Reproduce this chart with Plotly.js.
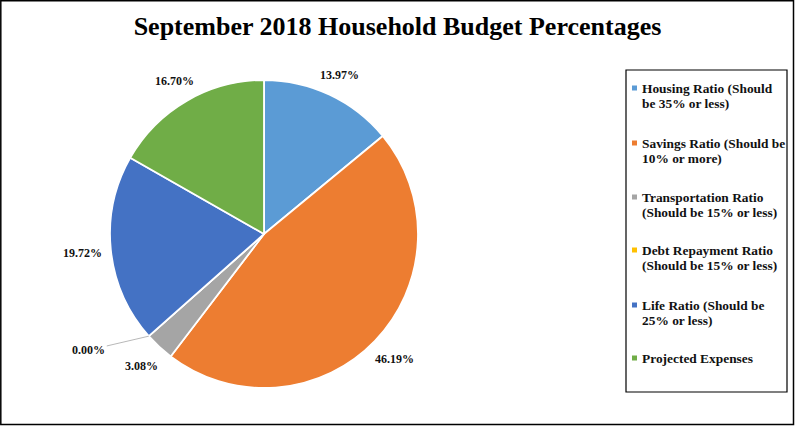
<!DOCTYPE html>
<html>
<head>
<meta charset="utf-8">
<script src="https://cdn.plot.ly/plotly-3.0.1.min.js"></script>
<style>html,body{margin:0;padding:0;background:#fff;}#chart{width:795px;height:426px;}</style>
</head>
<body>
<div id="chart"></div>
<script>
const categories = [
  "Housing Ratio (Should be 35% or less)",
  "Savings Ratio (Should be 10% or more)",
  "Transportation Ratio (Should be 15% or less)",
  "Debt Repayment Ratio (Should be 15% or less)",
  "Life Ratio (Should be 25% or less)",
  "Projected Expenses"
];
const legendLines = [
  ["Housing Ratio (Should", "be 35% or less)"],
  ["Savings Ratio (Should be", "10% or more)"],
  ["Transportation Ratio", "(Should be 15% or less)"],
  ["Debt Repayment Ratio", "(Should be 15% or less)"],
  ["Life Ratio (Should be", "25% or less)"],
  ["Projected Expenses"]
];
const values = [13.97, 46.19, 3.08, 0.00, 19.72, 16.70];
const colors = ["#5B9BD5", "#ED7D31", "#A5A5A5", "#FFC000", "#4472C4", "#70AD47"];

const W = 795, H = 426;
const px = x => x / W;
const py = y => 1 - y / H;

const FONT = "Liberation Serif, Times New Roman, serif";

// pie geometry
const cx = 264, cy = 234, R = 154;
const domain = {x: [px(cx - R), px(cx + R)], y: [py(cy + R), py(cy - R)]};

const labels = values.map(v => v.toFixed(2) + "%");
const total = values.reduce((a, b) => a + b, 0);

const trace = {
  type: "pie",
  labels: categories,
  values: values,
  text: labels,
  textinfo: "none",
  hoverinfo: "label+text",
  sort: false,
  direction: "clockwise",
  rotation: 0,
  domain: domain,
  automargin: false,
  marker: {colors: colors, line: {color: "#ffffff", width: 1.8}},
  showlegend: false
};

const shapes = [
  {type: "rect", xref: "paper", yref: "paper", x0: px(0.8), x1: px(793.5), y0: py(424.5), y1: py(0.8),
   line: {color: "#000", width: 1.5}},
  {type: "rect", xref: "paper", yref: "paper", x0: px(626), x1: px(787), y0: py(392), y1: py(70),
   line: {color: "#000", width: 1.2}}
];
const annotations = [];

// legend (manual, marker aligned with first text line)
const legendY = [88, 143, 197, 250, 305, 358];
categories.forEach((c, i) => {
  const y = legendY[i];
  shapes.push({type: "rect", xref: "paper", yref: "paper",
    x0: px(632), x1: px(637), y0: py(y + 2.5), y1: py(y - 2.5),
    fillcolor: colors[i], line: {width: 0}});
  legendLines[i].forEach((line, j) => {
    annotations.push({xref: "paper", yref: "paper", x: px(640), y: py(y + j * 15),
      xanchor: "left", yanchor: "middle", align: "left", showarrow: false,
      text: "<b>" + line + "</b>",
      font: {family: FONT, size: 13.4, color: "#111"}});
  });
});

// data labels placed outside each slice at its mid-angle
const LW = 40, LH = 12, GAP = 8;
let cum = 0;
values.forEach((v, i) => {
  const start = cum;
  cum += v;
  if (v === 0) {
    const ang = (start / total) * 2 * Math.PI;
    const ex = cx + R * Math.sin(ang);
    const ey = cy - R * Math.cos(ang);
    annotations.push({xref: "paper", yref: "paper", x: px(ex), y: py(ey),
      ax: -60, ay: 14, showarrow: true, arrowhead: 0, arrowwidth: 0.8, arrowcolor: "#A6A6A6",
      text: "<b>" + labels[i] + "</b>", font: {family: FONT, size: 12, color: "#111"}, standoff: 0});
  } else {
    const ang = ((start + v / 2) / total) * 2 * Math.PI;
    const s = Math.sin(ang), c = Math.cos(ang);
    const ext = Math.abs(s) * LW / 2 + Math.abs(c) * LH / 2;
    const d = R + GAP + ext;
    annotations.push({xref: "paper", yref: "paper", x: px(cx + d * s), y: py(cy - d * c),
      xanchor: "center", yanchor: "middle", showarrow: false,
      text: "<b>" + labels[i] + "</b>", font: {family: FONT, size: 12, color: "#111"}});
  }
});

const layout = {
  width: W, height: H,
  margin: {l: 0, r: 0, t: 0, b: 0},
  paper_bgcolor: "#fff",
  title: {text: "<b>September 2018 Household Budget Percentages</b>", x: 0.5, xanchor: "center",
          y: py(26), yanchor: "middle", yref: "paper",
          font: {family: FONT, size: 26, color: "#000"}},
  shapes: shapes,
  annotations: annotations,
  showlegend: false
};

Plotly.newPlot("chart", [trace], layout, {displayModeBar: false, staticPlot: true});
</script>
</body>
</html>
